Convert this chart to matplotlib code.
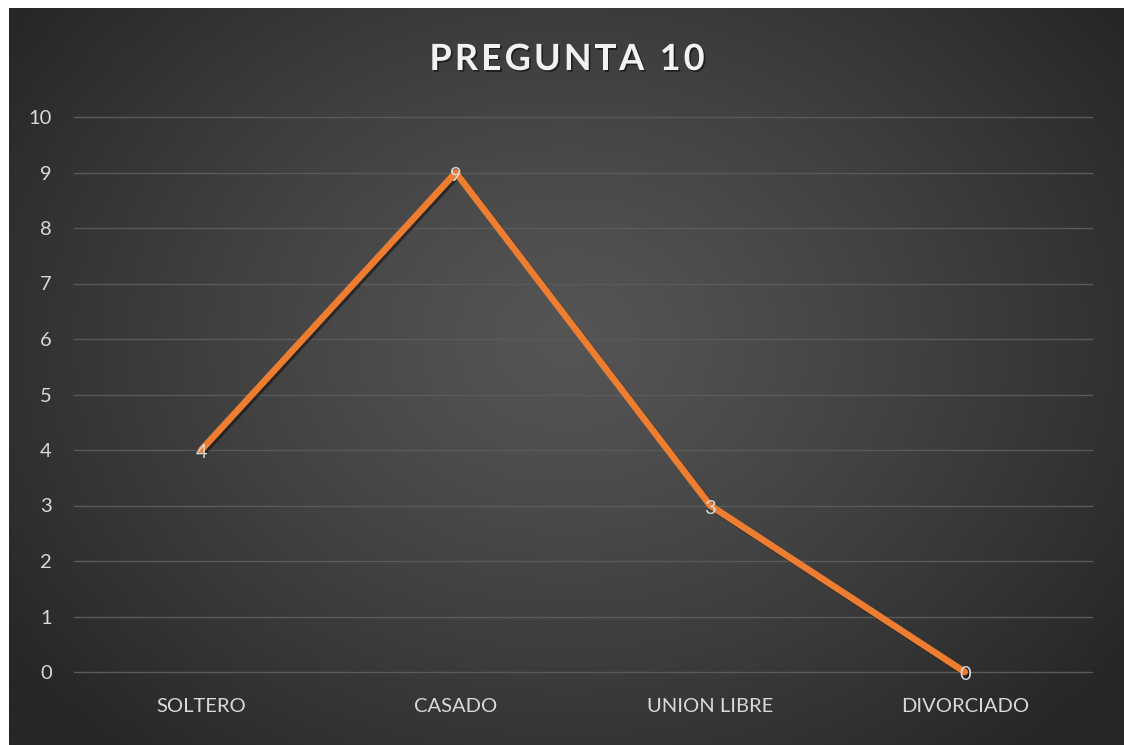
import numpy as np
import matplotlib
matplotlib.use("Agg")
import matplotlib.pyplot as plt
import matplotlib.patheffects as pe

categories = ["SOLTERO", "CASADO", "UNION LIBRE", "DIVORCIADO"]
values = [4, 9, 3, 0]
yticks = list(range(0, 11))
title = "PREGUNTA 10"

W, H = 1124, 745
fig = plt.figure(figsize=(W / 100, H / 100), dpi=100, facecolor="white")

# background panel with radial gradient
bg = fig.add_axes([9 / W, 0, 1 - 9 / W, 1 - 8 / H])
bg.set_axis_off()
ny, nx = 400, 600
yy, xx = np.mgrid[0:ny, 0:nx]
cx, cy = nx * 0.50, ny * 0.45
r = np.sqrt(((xx - cx) / (nx * 0.62)) ** 2 + ((yy - cy) / (ny * 0.75)) ** 2)
r = np.clip(r, 0, 1)
c_in, c_out = 0x55 / 255, 0x26 / 255
img = c_in + (c_out - c_in) * r ** 1.2
rgb = np.dstack([img, img, img])
bg.imshow(rgb, aspect="auto", extent=[0, 1, 0, 1], origin="upper", interpolation="bilinear")
bg.set_xlim(0, 1)
bg.set_ylim(0, 1)

font = "Lato"
ax = fig.add_axes([74 / W, 1 - 672 / H, (1092 - 74) / W, (672 - 117) / H])
ax.patch.set_alpha(0)
x = np.arange(len(categories))
ax.set_xlim(-0.5, len(categories) - 0.5)
ax.set_ylim(0, 10)
ax.set_yticks(yticks)
ax.set_yticklabels([str(t) for t in yticks], fontsize=14.5, color="#D9D9D9", family=font)
ax.set_xticks(x)
ax.set_xticklabels(categories, fontsize=14.5, color="#D9D9D9", family=font)
ax.tick_params(axis="both", length=0)
ax.tick_params(axis="y", pad=16)
ax.tick_params(axis="x", pad=19)
for s in ax.spines.values():
    s.set_visible(False)
ax.grid(axis="y", color="#5A5A5A", linewidth=1.0, clip_on=False)
ax.set_axisbelow(True)

ax.plot(x, values, color="#ED7D31", linewidth=4.8, solid_capstyle="round", solid_joinstyle="round",
        path_effects=[pe.SimpleLineShadow(offset=(1.5, -1.5), shadow_color="black", alpha=0.45),
                      pe.Normal()], zorder=3, clip_on=False)
for xi, v in zip(x, values):
    ax.annotate(str(v), (xi, v), xytext=(0, -2), textcoords="offset points",
                ha="center", va="center", fontsize=14.5, color="#D9D9D9",
                family=font, zorder=4, annotation_clip=False)

# title with letter spacing
fig.canvas.draw()
renderer = fig.canvas.get_renderer()
tsize = 26
spacing = 3.0  # px
chars = []
widths = []
for ch in title:
    t = fig.text(0, 0, ch, fontsize=tsize, fontweight="bold", color="#F2F2F2", family=font,
                 ha="left", va="baseline")
    bb = t.get_window_extent(renderer)
    w = bb.width
    if ch == " ":
        w = tsize * 0.26 * 100 / 72
    chars.append(t)
    widths.append(w)
total = sum(widths) + spacing * (len(title) - 1)
xc = 567
xpos = xc - total / 2
base_y = H - 70
for t, w in zip(chars, widths):
    t.set_position((xpos / W, base_y / H))
    t.set_path_effects([pe.withSimplePatchShadow(offset=(1.2, -1.2), shadow_rgbFace="black", alpha=0.5)])
    xpos += w + spacing

fig.savefig("out.png", dpi=100, facecolor="white")
